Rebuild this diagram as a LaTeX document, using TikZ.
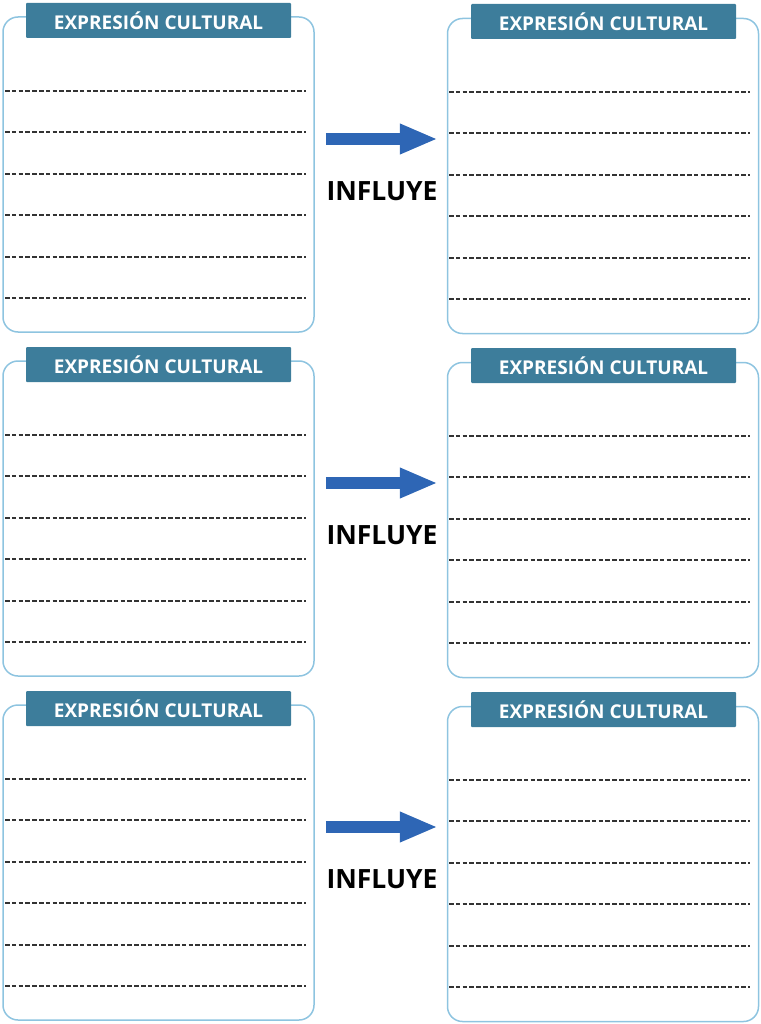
\documentclass[tikz,border=0pt]{standalone}
\usepackage{fontspec}
\setmainfont{Open Sans}
\usepackage{xcolor}
\definecolor{cardline}{RGB}{142,196,224}
\definecolor{tabfill}{RGB}{61,125,155}
\definecolor{arrowblue}{RGB}{46,102,181}
\definecolor{ruleink}{RGB}{51,51,51}
\usetikzlibrary{arrows.meta, positioning}

\tikzset{
  card/.style={draw=cardline, line width=1.5pt, rounded corners=15pt,
    minimum width=311pt, minimum height=315pt, inner sep=0pt},
  tab/.style={fill=tabfill, minimum width=265pt, minimum height=35pt, inner sep=0pt,
    rounded corners=1pt, text=white, font=\fontsize{19}{19}\selectfont\bfseries},
  writeline/.style={draw=ruleink, line width=1.4pt, dash pattern=on 4.5pt off 2.3pt},
  influence/.style={draw=arrowblue, line width=12pt, -{Triangle[length=38pt,width=28pt]}},
  verb/.style={text=black, font=\fontsize{26.5}{26.5}\selectfont\bfseries}
}

\begin{document}
\begin{tikzpicture}[x=1pt, y=-1pt]
  \useasboundingbox (0,0) rectangle (760,1024);

  % --- Three rows: cultural expression -> influences -> cultural expression ---
  \foreach \r in {0,1,2}{
    \pgfmathsetmacro{\dy}{344*\r}
    % Cards
    \node[card] (src\r) at (158.5,174.5+\dy) {};
    \node[card] (dst\r) at (603,176+\dy) {};
    % Header tabs
    \node[tab] (srctab\r) at (158.5,20.5+\dy) {EXPRESIÓN CULTURAL};
    \node[tab] (dsttab\r) at (603.5,21.5+\dy) {EXPRESIÓN CULTURAL};
    % Writing lines
    \foreach \ly in {91,132,174,215,257,298}{
      \draw[writeline] (5,\ly+\dy) -- (306,\ly+\dy);
      \draw[writeline] (449,\ly+1+\dy) -- (750,\ly+1+\dy);
    }
    % Arrow and verb
    \coordinate (mid\r) at (382,139+\dy);
    \draw[influence, shorten <=11pt, shorten >=9pt] (src\r.east |- mid\r) -- (dst\r.west |- mid\r);
    \node[verb] (verb\r) at (382,191+\dy) {INFLUYE};
  }
\end{tikzpicture}
\end{document}
